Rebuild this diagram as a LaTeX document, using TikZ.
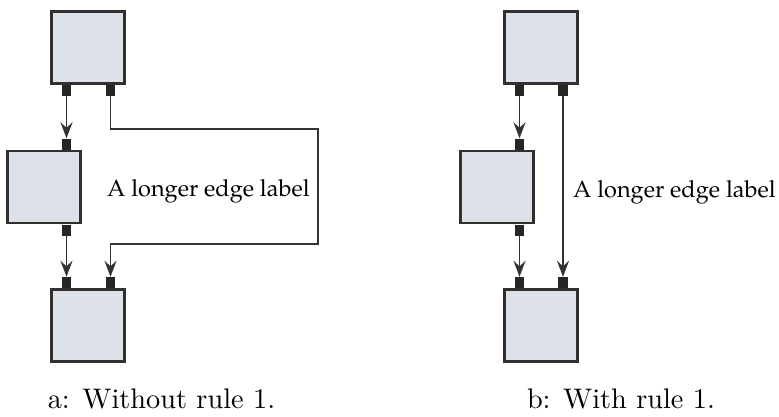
\documentclass[tikz,border=0pt]{standalone}
\usepackage[T1,TU]{fontenc}
\usepackage{graphicx}
\usetikzlibrary{arrows.meta}
\definecolor{boxfill}{HTML}{DDE1E8}
\definecolor{boxline}{HTML}{303030}
\definecolor{portfill}{HTML}{262626}
\definecolor{edgecol}{HTML}{333333}
\tikzset{
  blk/.style={draw=boxline, fill=boxfill, line width=2.2pt, minimum width=73pt, minimum height=72pt, inner sep=0pt},
  prt/.style={fill=portfill, draw=none, minimum width=9.5pt, minimum height=11pt, inner sep=0pt},
  edg/.style={draw=edgecol, line width=1.8pt, -{Stealth[length=16pt,width=12pt,inset=5.5pt]}},
  lbl/.style={inner sep=0pt, font=\fontencoding{T1}\fontfamily{ppl}\fontsize{23.5}{28}\selectfont},
  capt/.style={inner sep=0pt, font=\fontsize{10}{12}\selectfont}
}
\begin{document}
\begin{tikzpicture}[x=1pt,y=-1pt]
\useasboundingbox (0,0) rectangle (779,416);
% ---------- left (a) ----------
\node[blk] (aA) at (88,47.5) {};
\node[blk] (aB) at (44,187) {};
\node[blk] (aC) at (88,325.5) {};
\node[prt] (aA1) at (66.5,90.5) {};
\node[prt] (aA2) at (110.5,90.5) {};
\node[prt] (aB1) at (66.5,144) {};
\node[prt] (aB2) at (66.5,230) {};
\node[prt] (aC1) at (66.5,282.5) {};
\node[prt] (aC2) at (110.5,282.5) {};
\coordinate (ak1) at (318,129);
\coordinate (ak2) at (318,244);
\draw[edg] (aA1.south) -- (aB1.north);
\draw[edg] (aB2.south) -- (aC1.north);
\draw[edg] (aA2.south) |- (ak1) -- (ak2) -| (aC2.north);
\node[lbl, anchor=base west] (alab) at (107,196.5) {A longer edge label};
\node[capt, anchor=base] (acap) at (161.5,408) {\scalebox{2.83}{a: Without rule 1.}};
% ---------- right (b) ----------
\node[blk] (bA) at (541,47.5) {};
\node[blk] (bB) at (497,187) {};
\node[blk] (bC) at (541,325.5) {};
\node[prt] (bA1) at (519.5,90.5) {};
\node[prt] (bA2) at (563,90.5) {};
\node[prt] (bB1) at (519.5,144) {};
\node[prt] (bB2) at (519.5,230) {};
\node[prt] (bC1) at (519.5,282.5) {};
\node[prt] (bC2) at (563,282.5) {};
\draw[edg] (bA1.south) -- (bB1.north);
\draw[edg] (bB2.south) -- (bC1.north);
\draw[edg] (bA2.south) -- (bC2.north);
\node[lbl, anchor=base west] (blab) at (573,197) {A longer edge label};
\node[capt, anchor=base] (bcap) at (621,408) {\scalebox{2.83}{b: With rule 1.}};
\end{tikzpicture}
\end{document}
